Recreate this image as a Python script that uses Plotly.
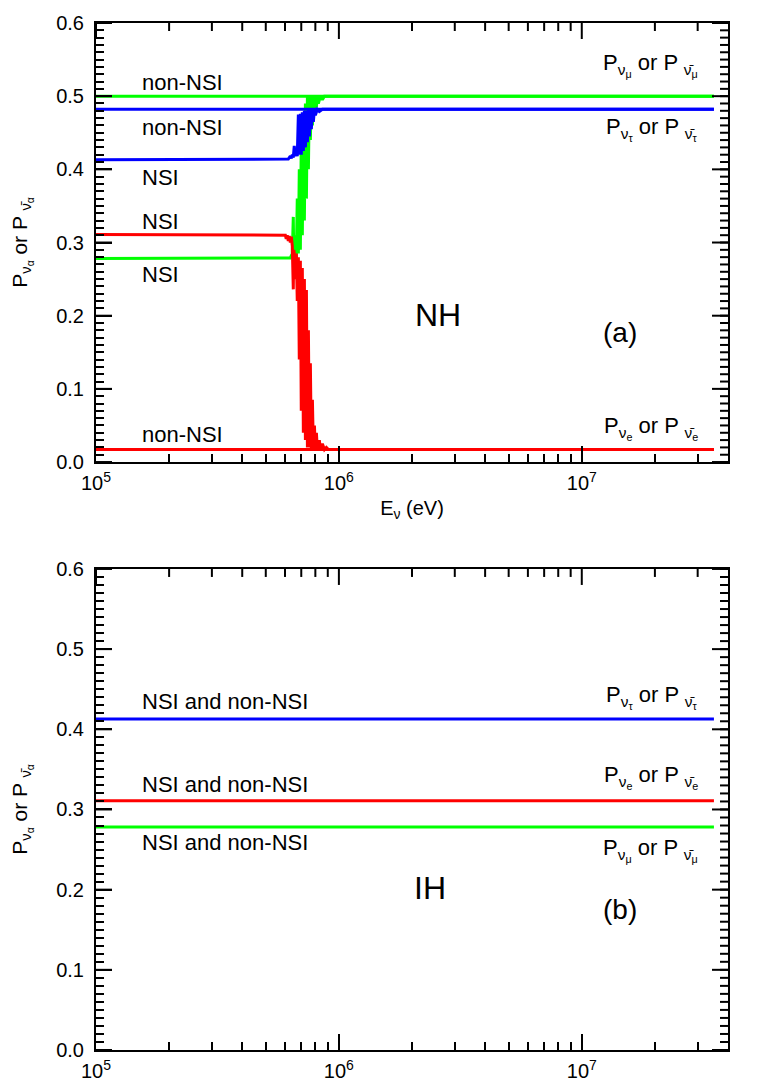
"""Flavour probabilities vs neutrino energy, NH (a) and IH (b), with and without NSI."""
import math

import plotly.graph_objects as go

# ---- data (energies in eV, probabilities) ----
E_FLAT = [1e5, 3.5e7]

# NH, non-NSI
P_MU_NONNSI = [0.500, 0.500]
P_TAU_NONNSI = [0.482, 0.482]
P_E_NONNSI = [0.017, 0.017]

# NH, NSI (noisy transition near 7e5 eV)
E_MU_NSI = [1e5, 6.19e5, 6.31e5, 6.43e5, 6.49e5, 6.52e5, 6.55e5, 6.62e5, 6.68e5,
            6.74e5, 6.81e5, 6.87e5, 6.94e5, 7.00e5, 7.07e5, 7.14e5, 7.21e5, 7.28e5,
            7.35e5, 7.42e5, 7.49e5, 7.56e5, 7.63e5, 7.70e5, 7.78e5, 7.85e5, 7.93e5,
            8.00e5, 8.08e5, 8.15e5, 8.23e5, 8.39e5, 8.55e5, 8.72e5, 3.5e7]
P_MU_NSI = [0.278, 0.278, 0.279, 0.285, 0.335, 0.280, 0.280, 0.310, 0.280,
            0.360, 0.285, 0.400, 0.290, 0.440, 0.310, 0.470, 0.330, 0.490,
            0.360, 0.500, 0.400, 0.500, 0.440, 0.500, 0.460, 0.500, 0.475,
            0.500, 0.485, 0.500, 0.490, 0.500, 0.495, 0.500, 0.500]

E_TAU_NSI = [1e5, 6.07e5, 6.19e5, 6.31e5, 6.37e5, 6.43e5, 6.49e5, 6.55e5, 6.62e5,
             6.68e5, 6.74e5, 6.81e5, 6.87e5, 6.94e5, 7.00e5, 7.07e5, 7.14e5, 7.21e5,
             7.28e5, 7.35e5, 7.42e5, 7.49e5, 7.56e5, 7.63e5, 7.70e5, 7.78e5, 7.85e5,
             7.93e5, 8.00e5, 8.15e5, 8.31e5, 8.55e5, 3.5e7]
P_TAU_NSI = [0.413, 0.413, 0.414, 0.418, 0.415, 0.420, 0.416, 0.432, 0.418,
             0.425, 0.418, 0.475, 0.420, 0.476, 0.420, 0.478, 0.425, 0.480,
             0.430, 0.480, 0.437, 0.482, 0.445, 0.482, 0.455, 0.482, 0.465,
             0.482, 0.474, 0.482, 0.479, 0.482, 0.482]

E_E_NSI = [1e5, 5.90e5, 6.02e5, 6.07e5, 6.13e5, 6.19e5, 6.25e5, 6.31e5, 6.37e5,
           6.43e5, 6.49e5, 6.52e5, 6.55e5, 6.62e5, 6.68e5, 6.74e5, 6.81e5, 6.87e5,
           6.94e5, 7.00e5, 7.07e5, 7.14e5, 7.21e5, 7.28e5, 7.35e5, 7.42e5, 7.49e5,
           7.56e5, 7.63e5, 7.70e5, 7.78e5, 7.85e5, 7.93e5, 8.00e5, 8.08e5, 8.15e5,
           8.31e5, 8.39e5, 8.55e5, 8.72e5, 8.88e5, 9.05e5, 3.5e7]
P_E_NSI = [0.311, 0.311, 0.310, 0.305, 0.310, 0.302, 0.309, 0.300, 0.308,
           0.295, 0.236, 0.290, 0.285, 0.250, 0.285, 0.220, 0.280, 0.140,
           0.275, 0.070, 0.265, 0.040, 0.250, 0.030, 0.235, 0.020, 0.180,
           0.020, 0.135, 0.019, 0.085, 0.018, 0.050, 0.018, 0.040, 0.018,
           0.030, 0.017, 0.025, 0.017, 0.020, 0.017, 0.017]

# IH, NSI and non-NSI coincide
P_TAU_IH = [0.413, 0.413]
P_E_IH = [0.311, 0.311]
P_MU_IH = [0.278, 0.278]

X_TICKS = [1e5, 1e6, 1e7]
X_TICKTEXT = ["10<sup>5</sup>", "10<sup>6</sup>", "10<sup>7</sup>"]
X_MINOR = [2e5, 3e5, 4e5, 5e5, 6e5, 7e5, 8e5, 9e5,
           2e6, 3e6, 4e6, 5e6, 6e6, 7e6, 8e6, 9e6, 2e7, 3e7]
Y_MAJOR = [i / 10 for i in range(7)]
Y_MINOR = [i / 100 for i in range(61)]

GREEN = "#00ff00"
BLUE = "#0000ff"
RED = "#ff0000"
FONT = "Liberation Sans, Arial, sans-serif"
X_RANGE = [5, 7.602]
Y_RANGE = [0, 0.6]
LONG, SHORT = 16, 8

fig = go.Figure()


def add_line(x, y, color, xa="x", ya="y"):
    fig.add_trace(go.Scatter(x=x, y=y, mode="lines", xaxis=xa, yaxis=ya,
                             line=dict(color=color, width=3), showlegend=False,
                             hoverinfo="skip"))


# top panel (NH)
add_line(E_FLAT, P_MU_NONNSI, GREEN)
add_line(E_MU_NSI, P_MU_NSI, GREEN)
add_line(E_E_NSI, P_E_NSI, RED)
add_line(E_FLAT, P_E_NONNSI, RED)
add_line(E_FLAT, P_TAU_NONNSI, BLUE)
add_line(E_TAU_NSI, P_TAU_NSI, BLUE)

# bottom panel (IH)
add_line(E_FLAT, P_TAU_IH, BLUE, "x2", "y2")
add_line(E_FLAT, P_E_IH, RED, "x2", "y2")
add_line(E_FLAT, P_MU_IH, GREEN, "x2", "y2")


def minor_x(vals, length):
    return dict(tickmode="array", tickvals=vals, ticks="inside", ticklen=length,
                tickwidth=2, tickcolor="black", showgrid=False)


def main_x(anchor):
    return dict(
        type="log", range=X_RANGE, anchor=anchor, domain=[0, 1],
        tickmode="array", tickvals=X_TICKS, ticktext=X_TICKTEXT,
        ticks="inside", ticklen=LONG, tickwidth=2, tickcolor="black",
        minor=minor_x(X_MINOR, SHORT), ticklabelstandoff=2,
        showline=True, linewidth=2, linecolor="black", mirror=True,
        showgrid=False, zeroline=False,
        tickfont=dict(family=FONT, size=20, color="black"),
    )


def main_y(anchor, domain):
    return dict(
        range=Y_RANGE, anchor=anchor, domain=domain,
        tickmode="linear", tick0=0, dtick=0.1, tickformat=".1f",
        ticks="inside", ticklen=LONG, tickwidth=2, tickcolor="black",
        minor=dict(tick0=0, dtick=0.01, ticks="inside", ticklen=SHORT,
                   tickwidth=2, tickcolor="black", showgrid=False),
        ticklabelstandoff=6,
        showline=True, linewidth=2, linecolor="black", mirror=True,
        showgrid=False, zeroline=False,
        tickfont=dict(family=FONT, size=20, color="black"),
        title=dict(text="P<sub>ν<sub>α</sub></sub> or P <sub>ν̄<sub>α</sub></sub>",
                   font=dict(family=FONT, size=21, color="black"), standoff=26),
    )


def long_x(base, anchor):
    # overlay axis whose minor ticks give the long decade ticks at the bottom
    return dict(type="log", range=X_RANGE, overlaying=base, anchor=anchor, side="bottom",
                tickmode="array", tickvals=[], ticks="", showticklabels=False,
                showline=False, showgrid=False, zeroline=False,
                minor=minor_x(X_TICKS, LONG))


def x_frac(v):
    return (math.log10(v) - X_RANGE[0]) / (X_RANGE[1] - X_RANGE[0])


TICK = dict(color="black", width=2)


def edge_ticks(xa, ya):
    # ticks on top and right frame edges, plus long left ticks
    for vals, length in ((X_MINOR, SHORT), (X_TICKS, LONG)):
        for v in vals:
            fig.add_shape(type="line", xref=f"{xa} domain", yref=f"{ya} domain",
                          x0=x_frac(v), x1=x_frac(v), ysizemode="pixel", yanchor=1,
                          y0=0, y1=-length, line=TICK)
    for vals, length in ((Y_MINOR, SHORT), (Y_MAJOR, LONG)):
        for v in vals:
            fig.add_shape(type="line", xref=f"{xa} domain", yref=ya,
                          y0=v, y1=v, xsizemode="pixel", xanchor=1,
                          x0=0, x1=-length, line=TICK)
    for v in Y_MAJOR:
        fig.add_shape(type="line", xref=f"{xa} domain", yref=ya,
                      y0=v, y1=v, xsizemode="pixel", xanchor=0,
                      x0=0, x1=LONG, line=TICK)


PANELS = [("x", "y", [0.5725, 1]), ("x2", "y2", [0, 0.4684])]
layout_axes = {}
for n, (xa, ya, dom) in enumerate(PANELS):
    sfx = "" if n == 0 else "2"
    layout_axes["xaxis" + sfx] = main_x(ya)
    layout_axes["yaxis" + sfx] = main_y(xa, dom)
    layout_axes[f"xaxis{3 + n}"] = long_x(xa, ya)
    edge_ticks(xa, ya)

layout_axes["xaxis"]["title"] = dict(text="E<sub>ν</sub> (eV)", standoff=8,
                                     font=dict(family=FONT, size=20, color="black"))

fig.update_layout(
    template="none",
    width=747, height=1074,
    margin=dict(l=88, r=27, t=15, b=32),
    paper_bgcolor="white", plot_bgcolor="white",
    showlegend=False,
    **layout_axes,
)


def note(text, x, y, ya="y", xanchor="left", size=22):
    fig.add_annotation(text=text, x=x, y=y, xref="x domain" if ya == "y" else "x2 domain",
                       yref=ya, xanchor=xanchor, yanchor="middle", showarrow=False,
                       font=dict(family=FONT, size=size, color="black"))


# top panel labels
note("non-NSI", 0.0696, 0.519)
note("non-NSI", 0.0696, 0.4575)
note("NSI", 0.0696, 0.389)
note("NSI", 0.0696, 0.329)
note("NSI", 0.0696, 0.256)
note("non-NSI", 0.0696, 0.038)
note("P<sub>ν<sub>μ</sub></sub> or P <sub>ν̄<sub>μ</sub></sub>", 0.9557, 0.543, xanchor="right")
note("P<sub>ν<sub>τ</sub></sub> or P <sub>ν̄<sub>τ</sub></sub>", 0.9557, 0.455, xanchor="right")
note("P<sub>ν<sub>e</sub></sub> or P <sub>ν̄<sub>e</sub></sub>", 0.9557, 0.047, xanchor="right")
note("NH", 0.541, 0.201, xanchor="center", size=32)
note("(a)", 0.829, 0.177, xanchor="center", size=28)

# bottom panel labels
note("NSI and non-NSI", 0.0696, 0.435, ya="y2")
note("NSI and non-NSI", 0.0696, 0.331, ya="y2")
note("NSI and non-NSI", 0.0696, 0.259, ya="y2")
note("P<sub>ν<sub>τ</sub></sub> or P <sub>ν̄<sub>τ</sub></sub>", 0.9557, 0.44, ya="y2", xanchor="right")
note("P<sub>ν<sub>e</sub></sub> or P <sub>ν̄<sub>e</sub></sub>", 0.9557, 0.34, ya="y2", xanchor="right")
note("P<sub>ν<sub>μ</sub></sub> or P <sub>ν̄<sub>μ</sub></sub>", 0.9557, 0.25, ya="y2", xanchor="right")
note("IH", 0.528, 0.2025, ya="y2", xanchor="center", size=32)
note("(b)", 0.829, 0.175, ya="y2", xanchor="center", size=28)

fig.write_html("out.html")
